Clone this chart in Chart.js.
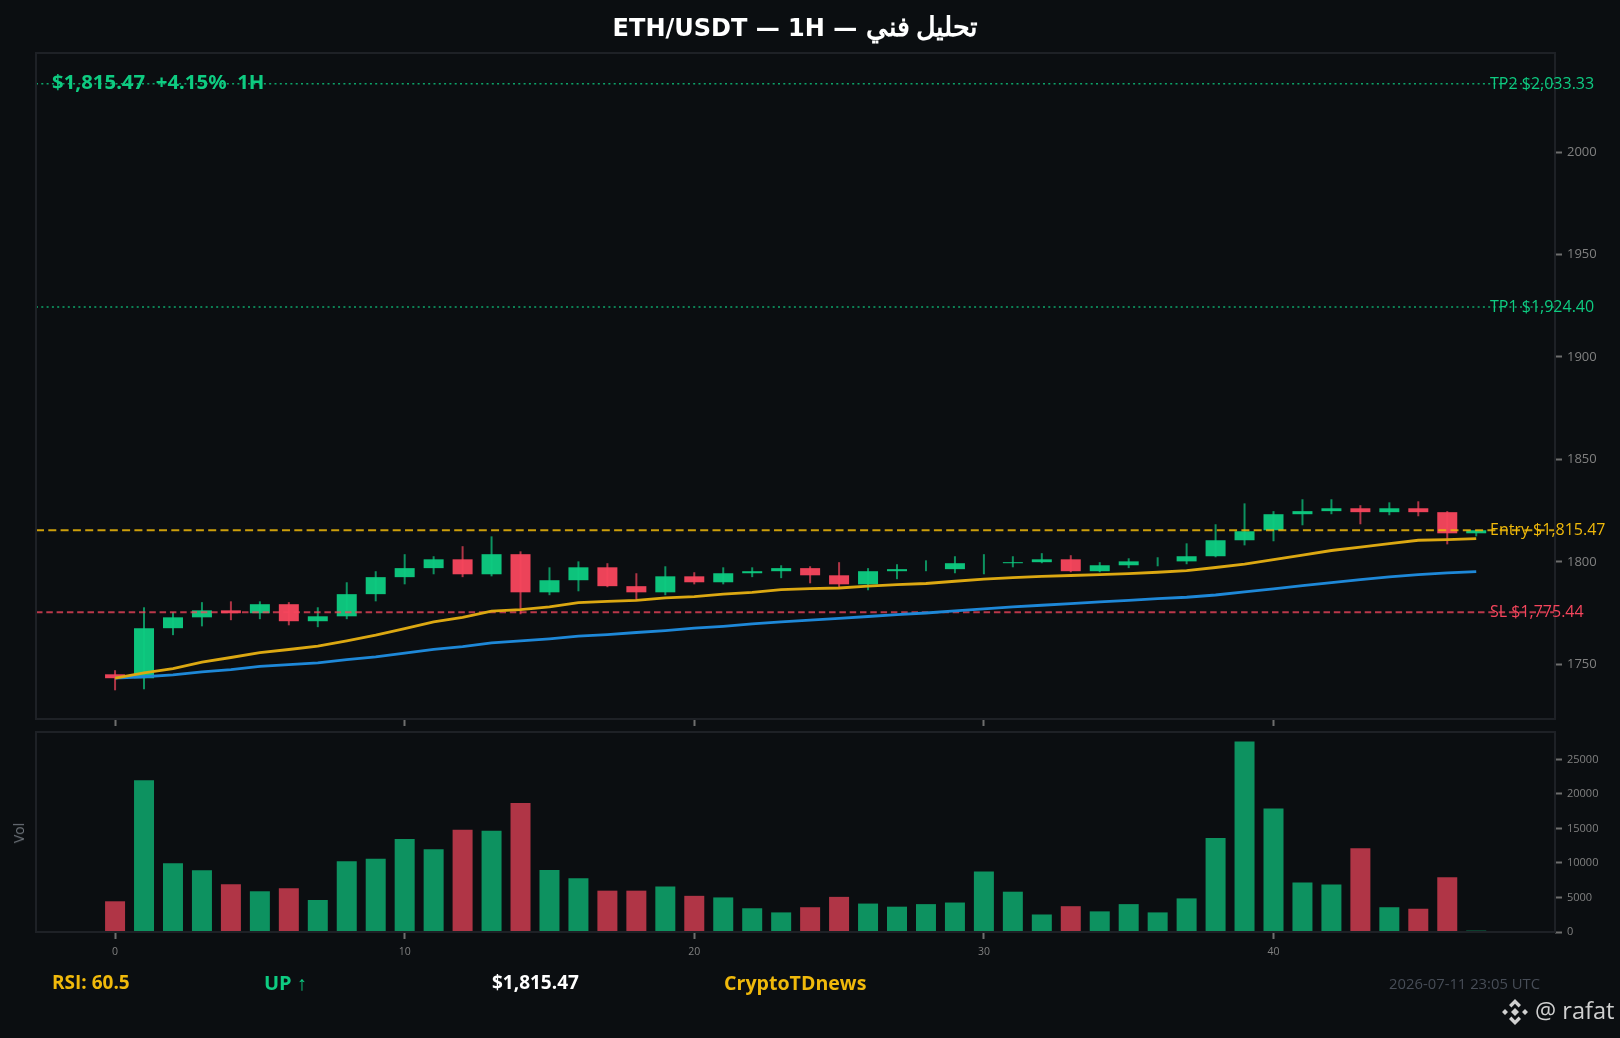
<!DOCTYPE html>
<html>
<head>
<meta charset="utf-8">
<title>ETH/USDT</title>
<script src="https://cdn.jsdelivr.net/npm/chart.js@4"></script>
<style>
html, body { margin: 0; padding: 0; background: #0b0e11; }
#page { position: relative; width: 1620px; height: 1038px; overflow: hidden; background: #0b0e11; }
canvas { position: absolute; left: 0; }
.txt { position: absolute; white-space: pre; line-height: 1; font-family: "Open Sans", sans-serif; }
#title { left: 36px; width: 1519px; top: 8px; text-align: center; font: bold 24px "DejaVu Sans", sans-serif; color: #fff; }
#title span { font-family: "Noto Sans", sans-serif; font-size: 26.5px; }
#headline { left: 52px; top: 71px; font-size: 20.4px; font-weight: 700; color: #0ecb81; font-family: "Noto Sans", sans-serif; }
.lvl { left: 1490px; font-size: 16px; }
.foot { top: 973px; font-size: 19px; font-weight: 700; }
#stamp { right: 80px; top: 976px; font-size: 14.8px; color: #474d57; }
#vol { left: 19px; top: 833px; font-size: 14px; color: #6f757c; transform: translate(-50%, -50%) rotate(-90deg); }
#mark { left: 1535px; top: 999px; font-size: 23.6px; color: #d0d0d0; }
#logo { position: absolute; left: 1501px; top: 998px; }
</style>
</head>
<body>
<div id="page">
  <canvas id="priceChart" width="1620" height="726" style="top:0;width:1620px;height:726px"></canvas>
  <canvas id="volChart" width="1620" height="312" style="top:726px;width:1620px;height:312px"></canvas>
  <div class="txt" id="title">ETH/USDT — 1H — <span>تحليل فني</span></div>
  <div class="txt" id="headline">$1,815.47  +4.15%  1H</div>
  <div class="txt" id="vol">Vol</div>
  <div class="txt foot" style="left:52px;color:#f0b90b">RSI: 60.5</div>
  <div class="txt foot" style="left:264px;color:#0ecb81;font-size:20px">UP ↑</div>
  <div class="txt foot" style="left:492px;color:#fff">$1,815.47</div>
  <div class="txt foot" style="left:724px;color:#f0b90b;font-size:19.6px">CryptoTDnews</div>
  <div class="txt" id="stamp">2026-07-11 23:05 UTC</div>
  <svg id="logo" width="28" height="28" viewBox="0 0 28 28" fill="#d0d0d0">
    <path d="M14 1l6 6-2.4 2.4L14 5.8l-3.6 3.6L8 7zM14 27l-6-6 2.4-2.4 3.6 3.6 3.6-3.6L20 21zM1 14l3-3 3 3-3 3zM21 14l3-3 3 3-3 3zM14 10l4 4-4 4-4-4z"/>
  </svg>
  <div class="txt" id="mark">@ rafat</div>
</div>

<script>
const candleIndex = [0,1,2,3,4,5,6,7,8,9,10,11,12,13,14,15,16,17,18,19,20,21,22,23,24,25,26,27,28,29,30,31,32,33,34,35,36,37,38,39,40,41,42,43,44,45,46,47];

const opens = [1745.2,1743.3,1767.7,1773.0,1776.4,1775.0,1779.4,1771.1,1773.5,1784.3,1792.6,1797.0,1801.3,1794.0,1803.8,1785.2,1791.1,1797.4,1788.2,1785.2,1793.0,1790.1,1794.5,1795.5,1797.0,1793.5,1789.1,1795.5,1796.5,1796.5,1799.4,1799.4,1799.9,1801.3,1795.5,1798.4,1800.3,1800.3,1802.8,1810.6,1815.47,1823.3,1824.8,1826.2,1824.3,1826.2,1824.3,1814.0];
const closes = [1743.3,1767.7,1773.0,1776.4,1775.0,1779.4,1771.1,1773.5,1784.3,1792.6,1797.0,1801.3,1794.0,1803.8,1785.2,1791.1,1797.4,1788.2,1785.2,1793.0,1790.1,1794.5,1795.5,1797.0,1793.5,1789.1,1795.5,1796.5,1796.5,1799.4,1799.4,1799.9,1801.3,1795.5,1798.4,1800.3,1800.3,1802.8,1810.6,1815.0,1823.3,1824.8,1826.2,1824.3,1826.2,1824.3,1814.0,1815.47];
const highs = [1747.2,1777.9,1775.5,1780.4,1780.8,1780.8,1780.4,1777.9,1790.1,1795.5,1803.8,1802.8,1807.7,1812.5,1805.2,1797.4,1800.3,1799.4,1794.5,1797.9,1795.0,1797.4,1797.4,1798.4,1797.9,1799.9,1797.0,1798.9,1800.8,1802.8,1803.8,1802.8,1804.3,1803.3,1799.9,1801.8,1802.3,1809.1,1818.4,1828.6,1824.8,1830.6,1830.6,1827.7,1829.1,1829.6,1824.8,1815.47];
const lows = [1737.4,1737.9,1764.3,1768.6,1771.6,1772.1,1769.1,1768.2,1772.1,1780.8,1789.1,1794.0,1792.6,1793.0,1774.5,1783.8,1785.7,1787.7,1781.3,1783.8,1789.1,1789.1,1792.6,1792.1,1789.6,1787.7,1786.2,1791.6,1795.5,1794.5,1794.0,1797.4,1799.4,1795.0,1795.0,1797.0,1797.9,1798.9,1802.3,1808.1,1810.1,1817.9,1823.3,1818.4,1822.8,1822.3,1808.6,1812.5];
const emaFast = [1743.3,1745.9,1748.0,1751.2,1753.4,1755.8,1757.3,1758.9,1761.5,1764.3,1767.5,1770.8,1773.0,1776.0,1776.8,1778.1,1780.2,1780.8,1781.3,1782.5,1783.1,1784.3,1785.2,1786.5,1787.0,1787.3,1788.2,1789.0,1789.5,1790.6,1791.6,1792.4,1793.0,1793.4,1793.8,1794.3,1795.0,1795.8,1797.3,1798.9,1801.2,1803.4,1805.6,1807.3,1809.0,1810.6,1810.9,1811.4];
const emaSlow = [1743.3,1744.0,1744.9,1746.4,1747.5,1749.1,1749.9,1750.8,1752.4,1753.7,1755.5,1757.4,1758.7,1760.5,1761.5,1762.5,1763.8,1764.6,1765.6,1766.5,1767.7,1768.6,1769.8,1770.8,1771.6,1772.5,1773.4,1774.3,1775.1,1776.1,1777.1,1778.1,1778.9,1779.7,1780.5,1781.3,1782.1,1782.8,1783.9,1785.4,1786.9,1788.5,1789.9,1791.4,1792.7,1793.8,1794.7,1795.3];
const volumes = [4450,21985,9960,8940,6910,5900,6330,4640,10250,10630,13470,11980,14820,14670,18710,8980,7780,5990,5990,6590,5240,5010,3440,2840,3590,5090,4120,3670,4040,4270,8760,5840,2540,3740,2990,4040,2840,4870,13620,27620,17890,7190,6890,12130,3590,3370,7930,200];

const levelNames = ['TP2 $2,033.33', 'TP1 $1,924.40', 'Entry $1,815.47', 'SL $1,775.44'];
const levelValues = [2033.33, 1924.40, 1815.47, 1775.44];
const levelColors = ['#0ecb81', '#0ecb81', '#f0b90b', '#f6465d'];

const xTicks = [0, 10, 20, 30, 40];
const priceTicks = [1750, 1800, 1850, 1900, 1950, 2000];
const volTicks = [0, 5000, 10000, 15000, 20000, 25000];

const X_MIN = -2.73, X_MAX = 49.72;
const GREEN = '#0ecb81', RED = '#f6465d', SPINE = '#1e2126', TICK = '#6e6e6e', LABEL = '#808080';

function rgba(hex, a) {
  const n = parseInt(hex.slice(1), 16);
  return `rgba(${n >> 16},${(n >> 8) & 255},${n & 255},${a})`;
}
const barColor = (i) => closes[i] >= opens[i] ? GREEN : RED;

// four spines, the library only draws one per axis
const frame = {
  id: 'frame',
  afterDraw(chart) {
    const { ctx, chartArea: a } = chart;
    ctx.save();
    ctx.strokeStyle = SPINE;
    ctx.lineWidth = 2;
    ctx.strokeRect(a.left, a.top, a.right - a.left, a.bottom - a.top);
    ctx.restore();
  }
};

function xAxis(showLabels, height) {
  return {
    type: 'linear', min: X_MIN, max: X_MAX, offset: false,
    afterBuildTicks: (s) => { s.ticks = xTicks.map((v) => ({ value: v })); },
    // no label overhang, the plot box has a fixed place
    afterFit: (s) => { s.height = height; s.paddingLeft = 0; s.paddingRight = 0; },
    grid: { offset: false, drawOnChartArea: false, drawTicks: true, tickLength: 7, tickColor: TICK, tickWidth: 2 },
    border: { display: false },
    ticks: { display: showLabels, color: LABEL, font: { family: 'Open Sans', size: 10.5 }, padding: 7, maxRotation: 0, callback: (v) => String(v) }
  };
}
function yAxis(min, max, values, size) {
  return {
    position: 'right', min: min, max: max,
    afterBuildTicks: (s) => { s.ticks = values.map((v) => ({ value: v })); },
    afterFit: (s) => { s.width = 65; s.paddingTop = 0; s.paddingBottom = 0; },
    grid: { drawOnChartArea: false, drawTicks: true, tickLength: 7, tickColor: TICK, tickWidth: 2 },
    border: { display: false },
    ticks: { color: LABEL, font: { family: 'Open Sans', size: size }, padding: 5, callback: (v) => String(v) }
  };
}

const levelSets = levelValues.map((v, i) => ({
  type: 'line',
  data: [{ x: X_MIN, y: v }, { x: X_MAX, y: v }],
  borderColor: rgba(levelColors[i], i < 2 ? 0.8 : i === 2 ? 0.85 : 0.75),
  borderWidth: i < 2 ? 1.6 : 2,
  borderDash: i < 2 ? [2, 3.3] : i === 2 ? [8, 4.3] : [6.5, 3.8],
  pointRadius: 0,
  order: 1
}));

new Chart(document.getElementById('priceChart'), {
  type: 'bar',
  data: {
    datasets: [
      { type: 'line', data: candleIndex.map((x, i) => ({ x, y: emaFast[i] })), borderColor: '#dca812', borderWidth: 2.8, pointRadius: 0, tension: 0, order: 0 },
      { type: 'line', data: candleIndex.map((x, i) => ({ x, y: emaSlow[i] })), borderColor: '#1e88d8', borderWidth: 2.8, pointRadius: 0, tension: 0, order: 0 },
      { data: candleIndex.map((x, i) => ({ x, y: [opens[i], closes[i]] })), backgroundColor: candleIndex.map((i) => rgba(barColor(i), 0.96)), barThickness: 20, inflateAmount: 0, grouped: false, order: 2 },
      { data: candleIndex.map((x, i) => ({ x, y: [lows[i], highs[i]] })), backgroundColor: candleIndex.map((i) => rgba(barColor(i), 0.7)), barThickness: 2, inflateAmount: 0, grouped: false, order: 3 },
      ...levelSets
    ]
  },
  options: {
    responsive: false,
    animation: false,
    devicePixelRatio: 1,
    layout: { padding: { left: 36, top: 53, right: 0, bottom: 0 } },
    plugins: { legend: { display: false }, tooltip: { enabled: false } },
    scales: { x: xAxis(false, 7), y: yAxis(1723.4, 2048.3, priceTicks, 13) }
  },
  plugins: [frame]
});

new Chart(document.getElementById('volChart'), {
  type: 'bar',
  data: {
    datasets: [
      { data: candleIndex.map((x, i) => ({ x, y: volumes[i] })), backgroundColor: candleIndex.map((i) => rgba(barColor(i), 0.7)), barThickness: 20, inflateAmount: 0, grouped: false }
    ]
  },
  options: {
    responsive: false,
    animation: false,
    devicePixelRatio: 1,
    layout: { padding: { left: 36, top: 6, right: 0, bottom: 0 } },
    plugins: { legend: { display: false }, tooltip: { enabled: false } },
    scales: { x: xAxis(true, 106), y: yAxis(0, 28980, volTicks, 11) }
  },
  plugins: [frame]
});

// level labels placed through the price scale
const priceChart = Chart.getChart('priceChart');
levelNames.forEach((name, i) => {
  const el = document.createElement('div');
  el.className = 'txt lvl';
  el.textContent = name;
  el.style.color = levelColors[i];
  el.style.top = (priceChart.scales.y.getPixelForValue(levelValues[i]) - 9) + 'px';
  document.getElementById('page').appendChild(el);
});
</script>
</body>
</html>
